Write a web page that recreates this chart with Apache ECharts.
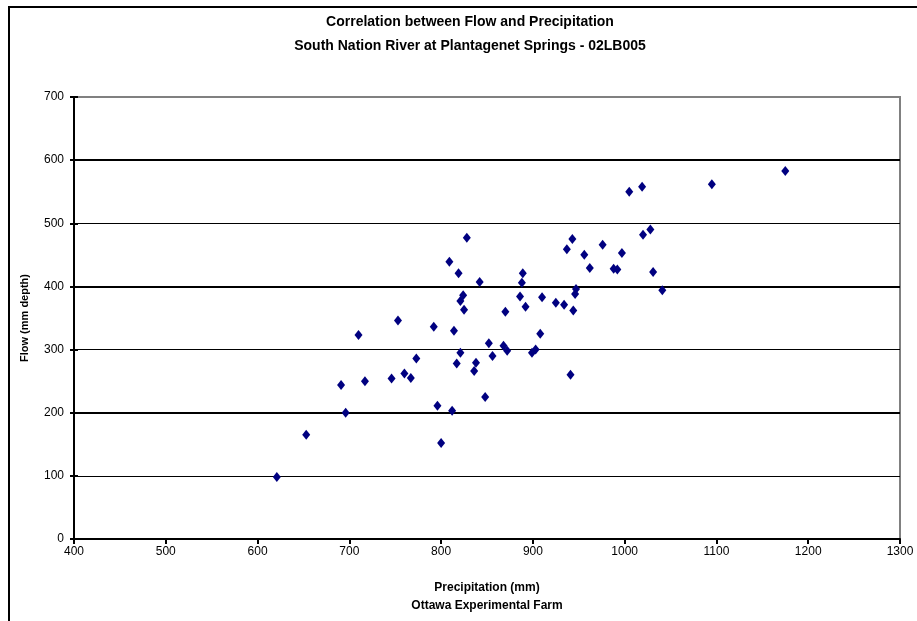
<!DOCTYPE html>
<html>
<head>
<meta charset="utf-8">
<title>Correlation between Flow and Precipitation</title>
<script src="https://cdn.jsdelivr.net/npm/echarts@6/dist/echarts.min.js"></script>
<style>
	html, body { margin: 0; padding: 0; background: #fff; }
	#chart { width: 917px; height: 621px; }
</style>
</head>
<body>
<div id="chart"></div>
<script>
	// precipitation (mm), Ottawa Experimental Farm
	var precip = [621, 653, 691, 696, 710, 717, 746, 753, 760, 767, 773, 792, 796, 800, 809, 812, 814, 817, 819, 821, 821,
		824, 825, 828, 836, 838, 842, 848, 852, 856, 870, 868, 872, 886, 888, 889, 892, 899, 903, 908, 910,
		925, 934, 937, 941, 943, 944, 946, 947, 956, 962, 976, 988, 992, 997, 1005, 1019, 1020, 1028, 1031, 1041,
		1095, 1175];
	// flow (mm depth), South Nation River
	var flow = [98, 165, 244, 200, 323, 250, 254, 346, 262, 255, 286, 336, 211, 152, 439, 203, 330, 278, 421, 295, 377,
		386, 363, 477, 266, 279, 407, 225, 310, 290, 360, 306, 298, 384, 406, 421, 368, 295, 300, 325, 383,
		374, 371, 459, 260, 475, 362, 388, 396, 450, 429, 466, 428, 427, 453, 550, 558, 482, 490, 423, 394,
		562, 583];
	// gridlines drawn heavier in the original
	var heavyLines = [200, 400, 600];

	var pts = precip.map(function (p, i) { return [p, flow[i]]; });
	var font = 'Liberation Sans, Arial, sans-serif';

	var chart = echarts.init(document.getElementById('chart'), null, { renderer: 'canvas' });
	chart.setOption({
		animation: false,
		backgroundColor: '#fff',
		title: {
			text: 'Correlation between Flow and Precipitation\nSouth Nation River at Plantagenet Springs - 02LB005',
			left: 465,
			top: 5,
			textAlign: 'center',
			textStyle: { fontFamily: font, fontSize: 14, fontWeight: 'bold', color: '#000', lineHeight: 24 }
		},
		// outer chart frame
		graphic: [{
			type: 'rect',
			shape: { x: 9, y: 7, width: 1000, height: 700 },
			style: { fill: 'none', stroke: '#000', lineWidth: 2 },
			silent: true
		}],
		grid: {
			left: 74, top: 97, right: 17, bottom: 82,
			show: true,
			borderColor: '#808080',
			borderWidth: 2,
			backgroundColor: '#fff'
		},
		xAxis: {
			type: 'value',
			min: 400, max: 1300, interval: 100,
			name: 'Precipitation (mm)\nOttawa Experimental Farm',
			nameLocation: 'middle',
			nameGap: 40,
			nameTextStyle: { fontFamily: font, fontSize: 12, fontWeight: 'bold', color: '#000', lineHeight: 18 },
			axisLine: { lineStyle: { color: '#000', width: 2 } },
			axisTick: { length: 5, lineStyle: { color: '#000', width: 2 } },
			axisLabel: {
				fontFamily: font, fontSize: 12, color: '#000', margin: 7,
				formatter: function (v) { return String(v); }
			},
			splitLine: { show: false }
		},
		yAxis: [{
			type: 'value',
			min: 0, max: 700, interval: 100,
			name: 'Flow (mm depth)',
			nameLocation: 'middle',
			nameGap: 44,
			nameTextStyle: { fontFamily: font, fontSize: 11, fontWeight: 'bold', color: '#000' },
			axisLine: { lineStyle: { color: '#000', width: 2 } },
			axisTick: { length: 4, lineStyle: { color: '#000', width: 2 } },
			axisLabel: { fontFamily: font, fontSize: 12, color: '#000', margin: 10 },
			splitLine: { showMaxLine: false, lineStyle: { color: '#000', width: 1 } }
		}, {
			// inner half of the crossing ticks
			type: 'value',
			position: 'left',
			min: 0, max: 700, interval: 100,
			axisLine: { show: false },
			axisTick: { show: true, inside: true, length: 4, lineStyle: { color: '#000', width: 2 } },
			axisLabel: { show: false },
			splitLine: { show: false }
		}],
		series: [{
			type: 'scatter',
			data: pts,
			symbol: 'diamond',
			symbolSize: [8, 10],
			itemStyle: { color: '#000080', opacity: 1 },
			z: 5,
			markLine: {
				silent: true,
				symbol: 'none',
				label: { show: false },
				lineStyle: { color: '#000', width: 2, type: 'solid' },
				data: heavyLines.map(function (v) { return { yAxis: v }; }),
				z: 2
			}
		}]
	});
</script>
</body>
</html>
